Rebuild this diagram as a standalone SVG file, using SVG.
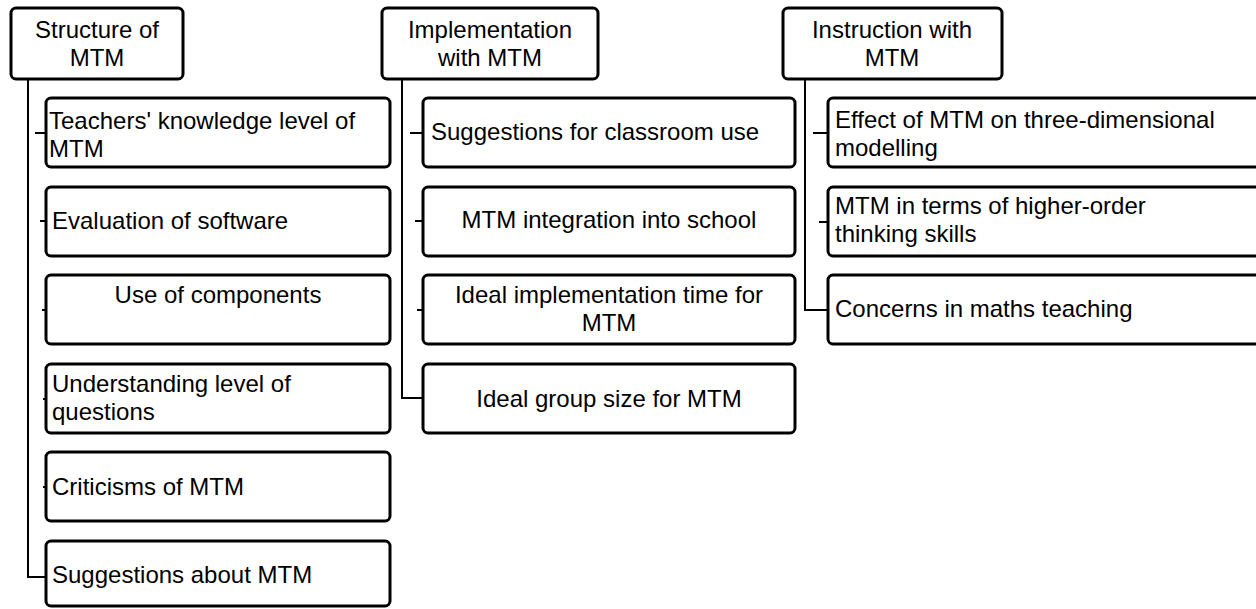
<svg xmlns="http://www.w3.org/2000/svg" width="1256" height="609" viewBox="0 0 1256 609">
<style>
.box{fill:#fff;stroke:#000;stroke-width:3}
.con{fill:none;stroke:#000;stroke-width:2}
text{font-family:"Liberation Sans",Arial,sans-serif;font-size:24px;fill:#000}
.c{text-anchor:middle}
</style>
<rect width="1256" height="609" fill="#fff"/>
<g id="connectors">
<path class="con" d="M28,79 V577 H46"/>
<path class="con" d="M35,133 H46 M40,221 H46 M42,310 H46 M43,399 H46 M43,487 H46"/>
<path class="con" d="M402,79 V398 H423"/>
<path class="con" d="M410,133 H423 M415,221 H423 M417,310 H423"/>
<path class="con" d="M805,79 V310 H828"/>
<path class="con" d="M813,133 H828 M819,222 H828"/>
</g>
<g id="h1"><rect class="box" x="11" y="8" width="172" height="71" rx="5"/><text class="c" x="97" y="38">Structure of<tspan x="97" dy="28">MTM</tspan></text></g>
<g id="h2"><rect class="box" x="382" y="8" width="216" height="71" rx="5"/><text class="c" x="490" y="38">Implementation<tspan x="490" dy="28">with MTM</tspan></text></g>
<g id="h3"><rect class="box" x="783" y="8" width="219" height="71" rx="5"/><text class="c" x="892" y="38">Instruction with<tspan x="892" dy="28">MTM</tspan></text></g>

<g id="a1"><rect class="box" x="46" y="98" width="344" height="69" rx="5"/><text x="49" y="129">Teachers' knowledge level of<tspan x="49" dy="28">MTM</tspan></text></g>
<g id="a2"><rect class="box" x="46" y="187" width="344" height="69" rx="5"/><text x="52" y="229">Evaluation of software</text></g>
<g id="a3"><rect class="box" x="46" y="275" width="344" height="69" rx="5"/><text class="c" x="218" y="303">Use of components</text></g>
<g id="a4"><rect class="box" x="46" y="364" width="344" height="69" rx="5"/><text x="52" y="392">Understanding level of<tspan x="52" dy="28">questions</tspan></text></g>
<g id="a5"><rect class="box" x="46" y="452" width="344" height="69" rx="5"/><text x="52" y="495">Criticisms of MTM</text></g>
<g id="a6"><rect class="box" x="46" y="541" width="344" height="65" rx="5"/><text x="52" y="583">Suggestions about MTM</text></g>

<g id="b1"><rect class="box" x="423" y="98" width="372" height="69" rx="5"/><text x="431" y="140">Suggestions for classroom use</text></g>
<g id="b2"><rect class="box" x="423" y="187" width="372" height="69" rx="5"/><text class="c" x="609" y="228">MTM integration into school</text></g>
<g id="b3"><rect class="box" x="423" y="275" width="372" height="69" rx="5"/><text class="c" x="609" y="303">Ideal implementation time for<tspan x="609" dy="28">MTM</tspan></text></g>
<g id="b4"><rect class="box" x="423" y="364" width="372" height="69" rx="5"/><text class="c" x="609" y="407">Ideal group size for MTM</text></g>

<g id="c1"><rect class="box" x="828" y="98" width="432" height="69" rx="5"/><text x="835" y="128">Effect of MTM on three-dimensional<tspan x="835" dy="28">modelling</tspan></text></g>
<g id="c2"><rect class="box" x="828" y="187" width="432" height="69" rx="5"/><text x="835" y="214">MTM in terms of higher-order<tspan x="835" dy="28">thinking skills</tspan></text></g>
<g id="c3"><rect class="box" x="828" y="275" width="432" height="69" rx="5"/><text x="835" y="317">Concerns in maths teaching</text></g>
</svg>
